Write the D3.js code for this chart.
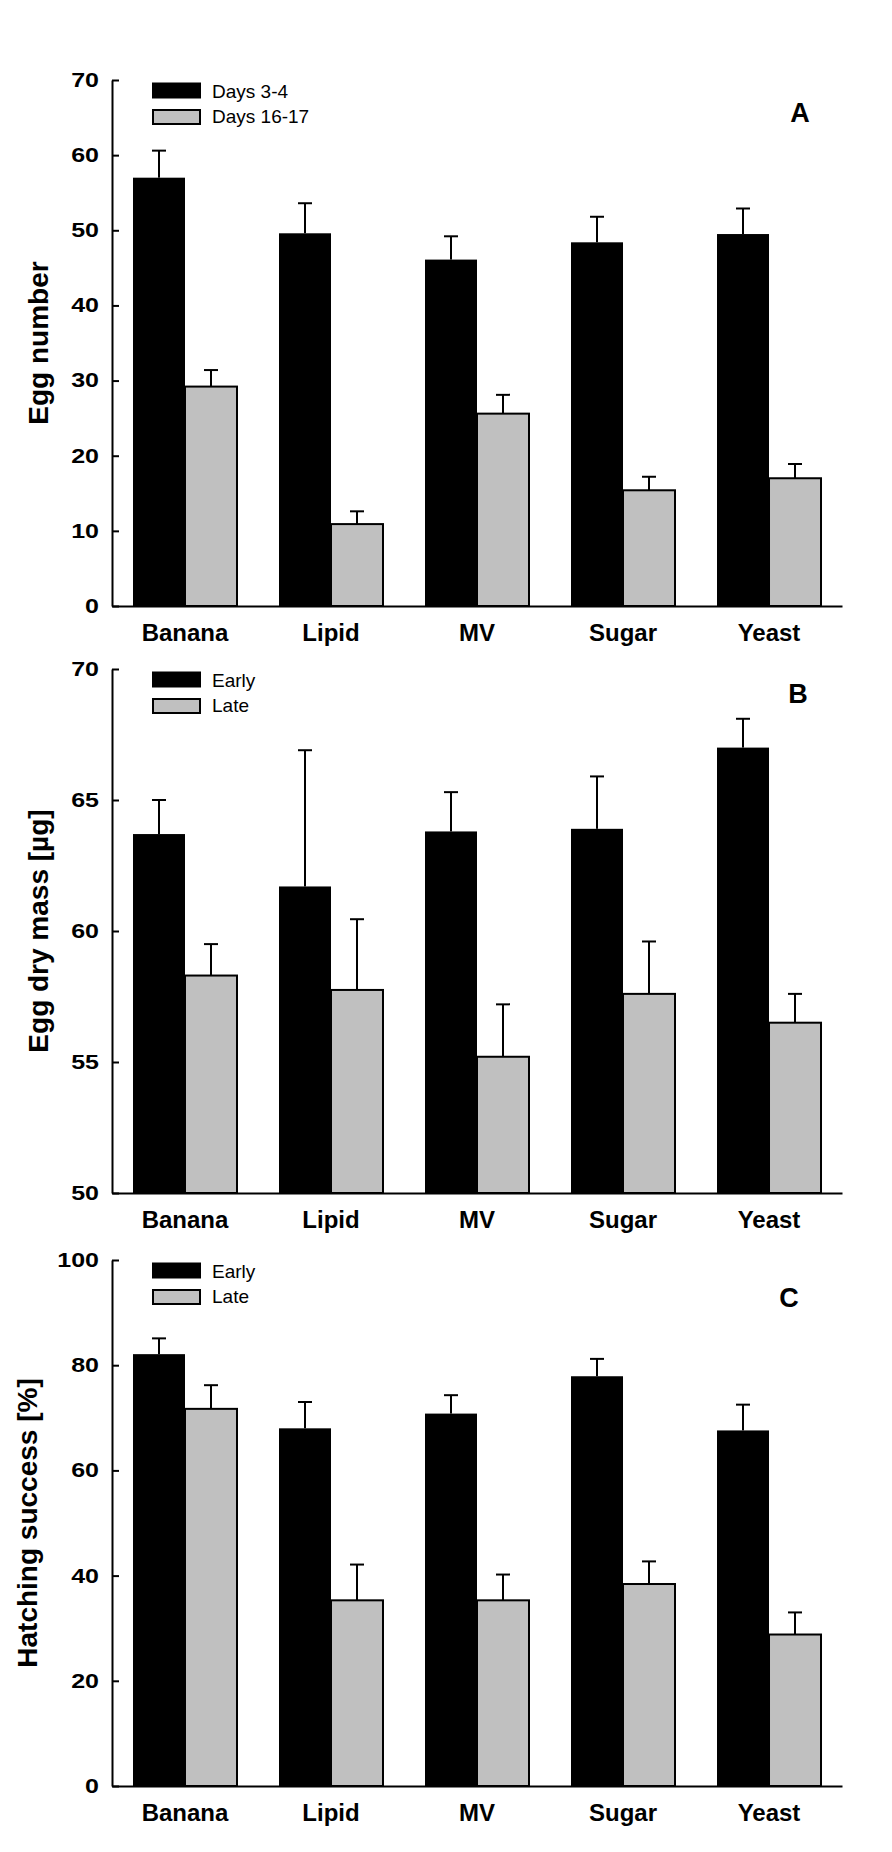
<!DOCTYPE html>
<html>
<head>
<meta charset="utf-8">
<script src="https://d3js.org/d3.v7.min.js"></script>
<style>
  body { margin: 0; background: #fff; }
  svg { display: block; font-family: "Liberation Sans", Arial, sans-serif; }
  .tick line { stroke: #000; stroke-width: 2; }
  .domain { stroke: #000; stroke-width: 2; }
</style>
</head>
<body>
<script>
// categories on the x axis
var categories = ["Banana", "Lipid", "MV", "Sugar", "Yeast"];

// panel A: egg number
var eggEarly   = [57.0, 49.6, 46.1, 48.4, 49.5];
var eggEarlySE = [3.6, 4.0, 3.1, 3.4, 3.4];
var eggLate    = [29.2, 10.9, 25.6, 15.4, 17.0];
var eggLateSE  = [2.2, 1.7, 2.5, 1.8, 1.9];
var eggTicks   = [0, 10, 20, 30, 40, 50, 60, 70];

// panel B: egg dry mass
var massEarly   = [63.7, 61.7, 63.8, 63.9, 67.0];
var massEarlySE = [1.3, 5.2, 1.5, 2.0, 1.1];
var massLate    = [58.3, 57.75, 55.2, 57.6, 56.5];
var massLateSE  = [1.2, 2.7, 2.0, 2.0, 1.1];
var massTicks   = [50, 55, 60, 65, 70];

// panel C: hatching success
var hatchEarly   = [82.1, 68.0, 70.8, 77.9, 67.6];
var hatchEarlySE = [3.0, 5.0, 3.5, 3.3, 4.9];
var hatchLate    = [71.7, 35.3, 35.3, 38.4, 28.8];
var hatchLateSE  = [4.5, 6.8, 4.9, 4.3, 4.2];
var hatchTicks   = [0, 20, 40, 60, 80, 100];

var W = 892, H = 1852;
var xLeft = 112, xRight = 842;

var svg = d3.select("body").append("svg")
    .attr("width", W).attr("height", H);
svg.append("rect").attr("width", W).attr("height", H).attr("fill", "#fff");

var x = d3.scaleBand()
    .domain(categories)
    .range([xLeft, xRight])
    .paddingInner(0.2877)
    .paddingOuter(0.1438);

var panels = [
  { top: 80, bottom: 606, ticks: eggTicks, early: eggEarly, earlySE: eggEarlySE,
    late: eggLate, lateSE: eggLateSE, title: "Egg number", titleX: 48,
    legend: ["Days 3-4", "Days 16-17"], letter: "A", letterX: 800, letterY: 122 },
  { top: 669, bottom: 1193, ticks: massTicks, early: massEarly, earlySE: massEarlySE,
    late: massLate, lateSE: massLateSE, title: "Egg dry mass [\u00b5g]", titleX: 48,
    legend: ["Early", "Late"], letter: "B", letterX: 798, letterY: 703 },
  { top: 1260, bottom: 1786, ticks: hatchTicks, early: hatchEarly, earlySE: hatchEarlySE,
    late: hatchLate, lateSE: hatchLateSE, title: "Hatching success [%]", titleX: 37,
    legend: ["Early", "Late"], letter: "C", letterX: 789, letterY: 1307 }
];

panels.forEach(function(p) {
  var ticks = p.ticks;
  var y = d3.scaleLinear()
      .domain([ticks[0], ticks[ticks.length - 1]])
      .range([p.bottom, p.top]);
  var g = svg.append("g");
  var half = x.bandwidth() / 2;

  // rows for bars
  var rows = categories.map(function(c, i) {
    return { cat: c, early: p.early[i], earlySE: p.earlySE[i], late: p.late[i], lateSE: p.lateSE[i] };
  });

  // error bars (upper only)
  function errBars(key, seKey, offset) {
    var eg = g.append("g");
    eg.selectAll("line.v").data(rows).enter().append("line")
      .attr("x1", function(d) { return x(d.cat) + offset + half / 2; })
      .attr("x2", function(d) { return x(d.cat) + offset + half / 2; })
      .attr("y1", function(d) { return y(d[key]); })
      .attr("y2", function(d) { return y(d[key] + d[seKey]); })
      .attr("stroke", "#000").attr("stroke-width", 2);
    eg.selectAll("line.c").data(rows).enter().append("line")
      .attr("x1", function(d) { return x(d.cat) + offset + half / 2 - 7; })
      .attr("x2", function(d) { return x(d.cat) + offset + half / 2 + 7; })
      .attr("y1", function(d) { return y(d[key] + d[seKey]); })
      .attr("y2", function(d) { return y(d[key] + d[seKey]); })
      .attr("stroke", "#000").attr("stroke-width", 2);
  }
  errBars("early", "earlySE", 0);
  errBars("late", "lateSE", half);

  g.selectAll("rect.early").data(rows).enter().append("rect")
    .attr("x", function(d) { return x(d.cat); })
    .attr("y", function(d) { return y(d.early); })
    .attr("width", half)
    .attr("height", function(d) { return p.bottom - y(d.early); })
    .attr("fill", "#000");

  g.selectAll("rect.late").data(rows).enter().append("rect")
    .attr("x", function(d) { return x(d.cat) + half; })
    .attr("y", function(d) { return y(d.late); })
    .attr("width", half)
    .attr("height", function(d) { return p.bottom - y(d.late); })
    .attr("fill", "#c0c0c0")
    .attr("stroke", "#000").attr("stroke-width", 2);

  // y axis, ticks pointing inwards
  var ya = g.append("g")
    .attr("transform", "translate(" + xLeft + ",0)")
    .call(d3.axisLeft(y).tickValues(ticks).tickSize(-7).tickSizeOuter(0).tickPadding(13));
  ya.selectAll("text")
    .attr("x", -13 / 1.25)
    .attr("transform", "scale(1.25,1)")
    .attr("font-size", 20).attr("font-weight", "bold")
    .attr("font-family", "'Liberation Sans', Arial, sans-serif")
    .attr("fill", "#000");

  // x axis
  var xa = g.append("g")
    .attr("transform", "translate(0," + p.bottom + ")")
    .call(d3.axisBottom(x).tickSize(0).tickSizeOuter(0).tickPadding(18));
  xa.selectAll("text")
    .attr("font-size", 24).attr("font-weight", "bold")
    .attr("font-family", "'Liberation Sans', Arial, sans-serif")
    .attr("fill", "#000");

  // y title
  g.append("text")
    .attr("transform", "translate(" + p.titleX + "," + ((p.top + p.bottom) / 2) + ") rotate(-90)")
    .attr("text-anchor", "middle")
    .attr("font-size", 28).attr("font-weight", "bold")
    .text(p.title);

  // legend
  var lg = g.append("g");
  lg.append("rect").attr("x", 152).attr("y", p.top + 2.5).attr("width", 49).attr("height", 16)
    .attr("fill", "#000");
  lg.append("rect").attr("x", 153).attr("y", p.top + 30).attr("width", 47).attr("height", 14)
    .attr("fill", "#c0c0c0").attr("stroke", "#000").attr("stroke-width", 2);
  lg.append("text").attr("x", 212).attr("y", p.top + 18)
    .attr("font-size", 19).text(p.legend[0]);
  lg.append("text").attr("x", 212).attr("y", p.top + 43)
    .attr("font-size", 19).text(p.legend[1]);

  // panel letter
  g.append("text")
    .attr("x", p.letterX).attr("y", p.letterY)
    .attr("text-anchor", "middle")
    .attr("font-size", 27).attr("font-weight", "bold")
    .text(p.letter);
});
</script>
</body>
</html>
